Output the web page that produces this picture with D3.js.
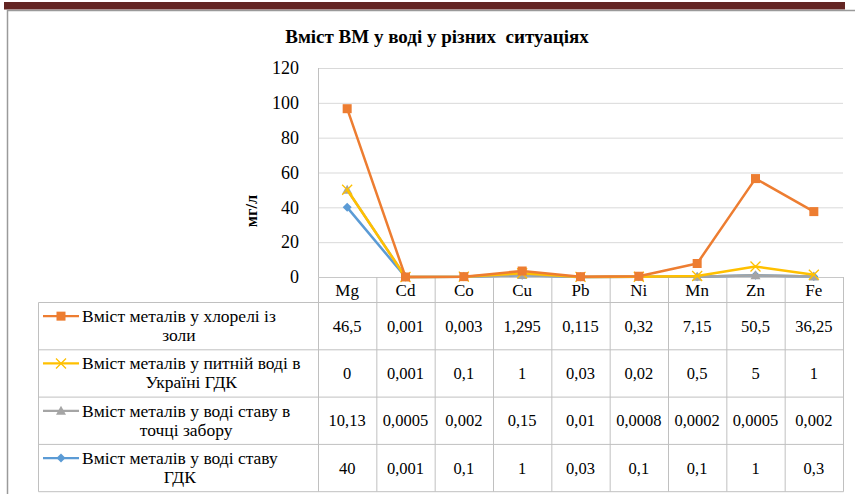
<!DOCTYPE html>
<html><head><meta charset="utf-8">
<script src="https://cdn.jsdelivr.net/npm/d3@7"></script>
<style>
svg text { font-family: "Liberation Serif", "Times New Roman", Tinos, serif; }
</style>
</head>
<body style="margin:0"><svg id="c" width="855" height="494"></svg>
<script>
const categories = ["Mg","Cd","Co","Cu","Pb","Ni","Mn","Zn","Fe"];
const chlorellaAsh = [46.5,0.001,0.003,1.295,0.115,0.32,7.15,50.5,36.25];
const drinkingWaterMPC = [0,0.001,0.1,1,0.03,0.02,0.5,5,1];
const pondIntake = [10.13,0.0005,0.002,0.15,0.01,0.0008,0.0002,0.0005,0.002];
const pondMPC = [40,0.001,0.1,1,0.03,0.1,0.1,1,0.3];
const yTicks = [0,20,40,60,80,100,120];
const title = "Вміст ВМ у воді у різних  ситуаціях";
const yTitle = "мг/л";
const FONT = '"Liberation Serif", "Times New Roman", Tinos, serif';

const series = [
  {key:"a", lines:["Вміст металів у хлорелі із","золи"], values:chlorellaAsh, color:"#ED7D31", marker:"square"},
  {key:"b", lines:["Вміст металів у питній воді в","Україні ГДК"], values:drinkingWaterMPC, color:"#FFC000", marker:"x"},
  {key:"c", lines:["Вміст металів у воді ставу в","точці забору"], values:pondIntake, color:"#A5A5A5", marker:"triangle"},
  {key:"d", lines:["Вміст металів у воді ставу","ГДК"], values:pondMPC, color:"#5B9BD5", marker:"diamond"}
];

const svg = d3.select("#c");
const txt = (sel) => sel.style("font-family", FONT).attr("fill","#000");

svg.append("rect").attr("x",4).attr("y",2).attr("width",841).attr("height",7.5).attr("fill","#632523");
svg.append("line").attr("x1",7).attr("x2",855).attr("y1",10.5).attr("y2",10.5).attr("stroke","#9a9a9a").attr("stroke-width",1.5);
svg.append("line").attr("x1",7.5).attr("x2",7.5).attr("y1",10).attr("y2",494).attr("stroke","#9a9a9a").attr("stroke-width",1.5);

const L=318, R=843, T=68, B=277;
const x = d3.scaleBand().domain(categories).range([L,R]);
const y = d3.scaleLinear().domain([0,120]).range([B,T]);
const cx = c => x(c)+x.bandwidth()/2;

txt(svg.append("text").attr("x",437).attr("y",43).attr("text-anchor","middle")
  .attr("font-size",19).attr("font-weight","bold").style("white-space","pre").text(title));

svg.append("g").selectAll("line").data(yTicks.filter(t=>t>0)).join("line")
  .attr("x1",L).attr("x2",R).attr("y1",d=>y(d)+0.5).attr("y2",d=>y(d)+0.5)
  .attr("stroke","#d9d9d9").attr("stroke-width",1);

const yAxis = d3.axisLeft(y).tickValues(yTicks).tickSize(0).tickPadding(19);
const ga = svg.append("g").attr("transform",`translate(${L},0)`).call(yAxis);
ga.select(".domain").remove();
txt(ga.selectAll("text")).style("font-size","18px");

txt(svg.append("text").attr("transform","translate(257,211) rotate(-90)").attr("text-anchor","middle")
  .attr("font-size",16.5).attr("font-weight","bold").text(yTitle));

const tableLeft = 38.5, headerBottom = 302.5, rowH = 47.3;
const rowTop = i => headerBottom + i*rowH;
const tb = "#c0c0c0";
const tg = svg.append("g").attr("stroke",tb).attr("stroke-width",1);
tg.append("line").attr("x1",L+0.5).attr("x2",L+0.5).attr("y1",T).attr("y2",rowTop(4));
tg.append("line").attr("x1",L).attr("x2",R).attr("y1",B+0.5).attr("y2",B+0.5).attr("stroke","#c8c8c8");
categories.forEach((c,i)=>{ if(i>0) tg.append("line").attr("x1",x(c)+0.5).attr("x2",x(c)+0.5).attr("y1",B).attr("y2",rowTop(4)); });
tg.append("line").attr("x1",R+0.5).attr("x2",R+0.5).attr("y1",B).attr("y2",rowTop(4));
tg.append("line").attr("x1",tableLeft).attr("x2",tableLeft).attr("y1",headerBottom).attr("y2",rowTop(4));
for(let i=0;i<=4;i++) tg.append("line").attr("x1",tableLeft).attr("x2",R+0.5).attr("y1",rowTop(i)).attr("y2",rowTop(i));

txt(svg.append("g").selectAll("text").data(categories).join("text")
  .attr("x",d=>cx(d)).attr("y",296).attr("text-anchor","middle").attr("font-size",17).text(d=>d));

const fmt = v => String(v).replace(".",",");
series.forEach((s,i)=>{
  const top = rowTop(i), mid = top+rowH/2;
  txt(svg.append("g").selectAll("text").data(s.values).join("text")
    .attr("x",(d,j)=>cx(categories[j])).attr("y",mid+5.5).attr("text-anchor","middle")
    .attr("font-size",16.5).text(d=>fmt(d)));
  const ky = mid-10;
  svg.append("line").attr("x1",43).attr("x2",79).attr("y1",ky).attr("y2",ky).attr("stroke",s.color).attr("stroke-width",2.25);
  drawMarker(svg, s.marker, 61, ky, s.color);
  const g = svg.append("g");
  const ts = s.lines.map((ln,k)=>txt(g.append("text").attr("y",mid-4+k*19).attr("font-size",17.5).text(ln)));
  const maxW = d3.max(ts, t=>t.node().getComputedTextLength());
  ts.forEach(t=>t.attr("x",82+maxW/2).attr("text-anchor","middle"));
});

function drawMarker(g, type, px, py, color){
  if(type==="square") g.append("rect").attr("x",px-4.5).attr("y",py-4.5).attr("width",9).attr("height",9).attr("fill",color);
  else if(type==="diamond") g.append("path").attr("d",`M${px},${py-4.5}L${px+4.5},${py}L${px},${py+4.5}L${px-4.5},${py}Z`).attr("fill",color);
  else if(type==="triangle") g.append("path").attr("d",`M${px},${py-5}L${px+5},${py+4}L${px-5},${py+4}Z`).attr("fill",color);
  else if(type==="x") g.append("path").attr("d",`M${px-5},${py-5}L${px+5},${py+5}M${px+5},${py-5}L${px-5},${py+5}`).attr("stroke",color).attr("stroke-width",1.3).attr("fill","none");
}

const stackOrder = ["d","c","b","a"];
const rows = categories.map((c,j)=>{ const o={cat:c}; series.forEach(s=>o[s.key]=s.values[j]); return o; });
const stacked = d3.stack().keys(stackOrder)(rows);
const line = d3.line().x(d=>cx(d.data.cat)).y(d=>y(d[1]));
const plot = svg.append("g");
stacked.forEach(layer=>{
  const s = series.find(z=>z.key===layer.key);
  plot.append("path").datum(layer).attr("d",line).attr("fill","none").attr("stroke",s.color)
    .attr("stroke-width",2.5).attr("stroke-linejoin","round");
  layer.forEach(d=>drawMarker(plot, s.marker, cx(d.data.cat), y(d[1]), s.color));
});
</script></body></html>
